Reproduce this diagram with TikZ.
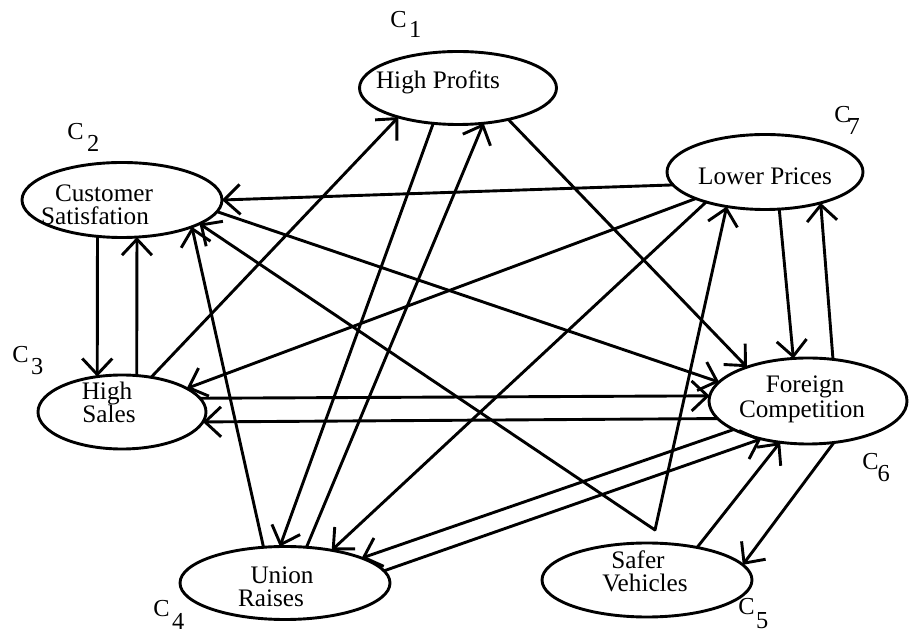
\documentclass[tikz,border=0pt]{standalone}
\usepackage{fontspec}
\setmainfont{Liberation Serif}
\usetikzlibrary{arrows.meta,shapes.geometric}
\newcommand\clab[3]{C\hspace{#1}\raisebox{-#2}{#3}}
\begin{document}
\begin{tikzpicture}[x=0.5pt,y=-0.5pt,
  concept/.style={draw, ellipse, line width=1.45pt, inner sep=0pt, outer sep=0pt},
  txt/.style={anchor=base, inner sep=0pt, font=\fontsize{12.6}{12}\selectfont},
  clabel/.style={anchor=base west, inner sep=0pt, font=\fontsize{12.2}{12}\selectfont},
  link/.style={line width=1.45pt, line cap=round, -{Straight Barb[length=8pt,width=15pt]}}]
\useasboundingbox (0,0) rectangle (910,635);

% concept ellipses
\node[concept, minimum width=98.5pt, minimum height=36.5pt] (c1) at (458,88) {};
\node[concept, minimum width=100pt, minimum height=37.5pt] (c2) at (122,200) {};
\node[concept, minimum width=84pt, minimum height=37pt] (c3) at (122,412) {};
\node[concept, minimum width=105pt, minimum height=36.5pt] (c4) at (285,583) {};
\node[concept, minimum width=105pt, minimum height=37pt] (c5) at (647,580) {};
\node[concept, minimum width=99pt, minimum height=43pt] (c6) at (808,401) {};
\node[concept, minimum width=98pt, minimum height=37.5pt] (c7) at (765,172) {};
\coordinate (c5apex) at (655,530);

% texts
\node[txt] (t1) at (438,89) {High Profits};
\node[txt] (t2a) at (104,202) {Customer};
\node[txt] (t2b) at (95,225) {Satisfation};
\node[txt] (t3a) at (107,400) {High};
\node[txt] (t3b) at (109,423) {Sales};
\node[txt] (t4a) at (282,583) {Union};
\node[txt] (t4b) at (271,607) {Raises};
\node[txt] (t5a) at (638,568) {Safer};
\node[txt] (t5b) at (645,592) {Vehicles};
\node[txt] (t6a) at (805,393) {Foreign};
\node[txt] (t6b) at (802,418) {Competition};
\node[txt] (t7) at (765,185) {Lower Prices};

% concept labels
\node[clabel] (l1) at (390,28) {\clab{1.25pt}{5pt}{1}};
\node[clabel] (l2) at (67,140) {\clab{1.75pt}{6pt}{2}};
\node[clabel] (l3) at (12,363) {\clab{1.25pt}{6pt}{3}};
\node[clabel] (l4) at (153,617) {\clab{1.25pt}{6pt}{4}};
\node[clabel] (l5) at (738,615) {\clab{0.75pt}{6.5pt}{5}};
\node[clabel] (l6) at (862,470) {\clab{-0.5pt}{6pt}{6}};
\node[clabel] (l7) at (834,123) {\clab{-1.5pt}{6pt}{7}};

% causal links
\draw[link] (c7.188) -- (c2.0);
\draw[link] (c2.236) -- (c3.125);
\draw[link] (c3.68) -- (c2.292);
\draw[link] (c3.50) -- (c1.206);
\draw[link] (c1.235) -- (c4.98);
\draw[link] (c4.59) -- (c1.306);
\draw[link] (c4.121) -- (c2.339);
\draw[link] (c1.328) -- (c6.151);
\draw[link] (c2.353) -- (c6.168);
\draw[link] (c3.10) -- (c6.177);
\draw[link] (c6.191) -- (c3.353);
\draw[link] (c7.201) -- (c3.20);
\draw[link] (c7.207) -- (c4.35);
\draw[link] (c5apex) -- (c7.222);
\draw[link] (c5apex) -- (c2.343);
\draw[link] (c7.291) -- (c6.109);
\draw[link] (c6.59) -- (c7.331);
\draw[link] (c6.201) -- (c4.18);
\draw[link] (c4.7) -- (c6.219);
\draw[link] (c5.33) -- (c6.236);
\draw[link] (c6.302) -- (c5.9);
\end{tikzpicture}
\end{document}
